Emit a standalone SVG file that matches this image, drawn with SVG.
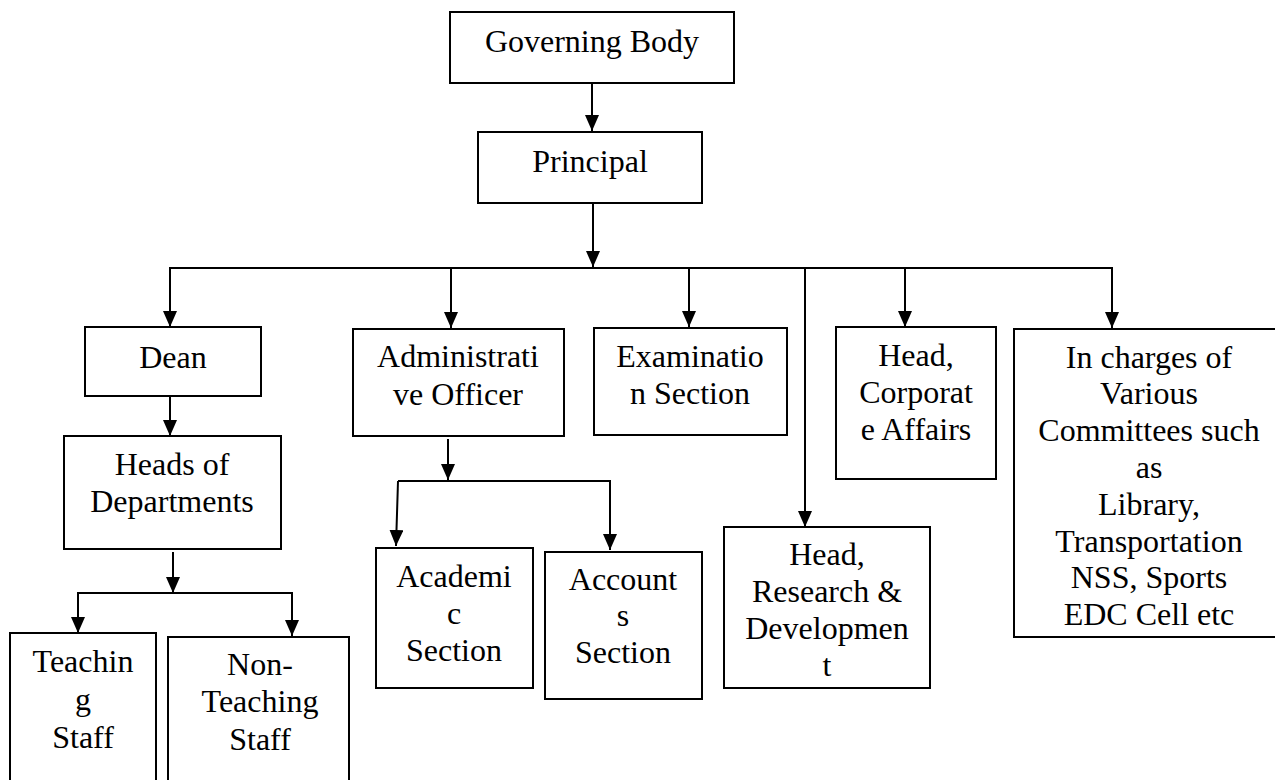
<svg xmlns="http://www.w3.org/2000/svg" width="1275" height="780" viewBox="0 0 1275 780">
<style>
.box{fill:#fff;stroke:#000;stroke-width:2}
.t{font-family:"Liberation Serif","Times New Roman",serif;font-size:32px;fill:#000;text-anchor:middle}
.c{stroke:#000;stroke-width:2;fill:none}
</style>
<defs>
<marker id="ah" viewBox="0 0 16 14" refX="16" refY="7" markerWidth="16" markerHeight="14" markerUnits="userSpaceOnUse" orient="auto">
<path d="M0,0 L16,7 L0,14 z" fill="#000"/>
</marker>
</defs>
<rect width="1275" height="780" fill="#fff"/>
<g id="connectors">
<line class="c" x1="592" y1="84" x2="592" y2="131" marker-end="url(#ah)"/>
<line class="c" x1="593" y1="204" x2="593" y2="267" marker-end="url(#ah)"/>
<polyline class="c" points="170,327 170,268 1112,268 1112,328" marker-end="url(#ah)"/>
<line class="c" x1="170" y1="268" x2="170" y2="327" marker-end="url(#ah)"/>
<line class="c" x1="451" y1="268" x2="451" y2="328" marker-end="url(#ah)"/>
<line class="c" x1="689" y1="268" x2="689" y2="327" marker-end="url(#ah)"/>
<line class="c" x1="805" y1="268" x2="805" y2="527" marker-end="url(#ah)"/>
<line class="c" x1="905" y1="268" x2="905" y2="327" marker-end="url(#ah)"/>
<line class="c" x1="170" y1="395" x2="170" y2="436" marker-end="url(#ah)"/>
<line class="c" x1="173" y1="552" x2="173" y2="593" marker-end="url(#ah)"/>
<polyline class="c" points="78,633 78,593 292,593 292,636" marker-end="url(#ah)"/>
<line class="c" x1="78" y1="593" x2="78" y2="633" marker-end="url(#ah)"/>
<line class="c" x1="448" y1="439" x2="448" y2="480" marker-end="url(#ah)"/>
<polyline class="c" points="398,481 610,481 610,550" marker-end="url(#ah)"/>
<line class="c" x1="398" y1="481" x2="396" y2="546" marker-end="url(#ah)"/>
</g>
<g id="governing-body"><rect class="box" x="450" y="12" width="284" height="71"/><text class="t" x="592" y="52">Governing Body</text></g>
<g id="principal"><rect class="box" x="478" y="132" width="224" height="71"/><text class="t" x="590" y="172">Principal</text></g>
<g id="dean"><rect class="box" x="85" y="327" width="176" height="69"/><text class="t" x="173" y="368">Dean</text></g>
<g id="admin-officer"><rect class="box" x="353" y="329" width="211" height="107"/><text class="t" x="458" y="367">Administrati</text><text class="t" x="458" y="405">ve Officer</text></g>
<g id="examination"><rect class="box" x="594" y="328" width="193" height="107"/><text class="t" x="690" y="367">Examinatio</text><text class="t" x="690" y="404">n Section</text></g>
<g id="corporate"><rect class="box" x="836" y="327" width="160" height="152"/><text class="t" x="916" y="366">Head,</text><text class="t" x="916" y="403">Corporat</text><text class="t" x="916" y="440">e Affairs</text></g>
<g id="committees"><rect class="box" x="1014" y="329" width="280" height="308"/>
<text class="t" x="1149" y="368">In charges of</text>
<text class="t" x="1149" y="404">Various</text>
<text class="t" x="1149" y="441">Committees such</text>
<text class="t" x="1149" y="478">as</text>
<text class="t" x="1149" y="515">Library,</text>
<text class="t" x="1149" y="552">Transportation</text>
<text class="t" x="1149" y="588">NSS, Sports</text>
<text class="t" x="1149" y="625">EDC Cell etc</text></g>
<g id="heads-of-departments"><rect class="box" x="64" y="436" width="217" height="113"/><text class="t" x="172" y="475">Heads of</text><text class="t" x="172" y="512">Departments</text></g>
<g id="academic"><rect class="box" x="376" y="548" width="157" height="140"/><text class="t" x="454" y="587">Academi</text><text class="t" x="454" y="624">c</text><text class="t" x="454" y="661">Section</text></g>
<g id="accounts"><rect class="box" x="545" y="552" width="157" height="147"/><text class="t" x="623" y="590">Account</text><text class="t" x="623" y="626">s</text><text class="t" x="623" y="663">Section</text></g>
<g id="research"><rect class="box" x="724" y="527" width="206" height="161"/><text class="t" x="827" y="565">Head,</text><text class="t" x="827" y="602">Research &amp;</text><text class="t" x="827" y="639">Developmen</text><text class="t" x="827" y="676">t</text></g>
<g id="teaching"><rect class="box" x="10" y="633" width="146" height="160"/><text class="t" x="83" y="672">Teachin</text><text class="t" x="83" y="710">g</text><text class="t" x="83" y="748">Staff</text></g>
<g id="non-teaching"><rect class="box" x="168" y="637" width="181" height="160"/><text class="t" x="260" y="675">Non-</text><text class="t" x="260" y="712">Teaching</text><text class="t" x="260" y="750">Staff</text></g>
</svg>
